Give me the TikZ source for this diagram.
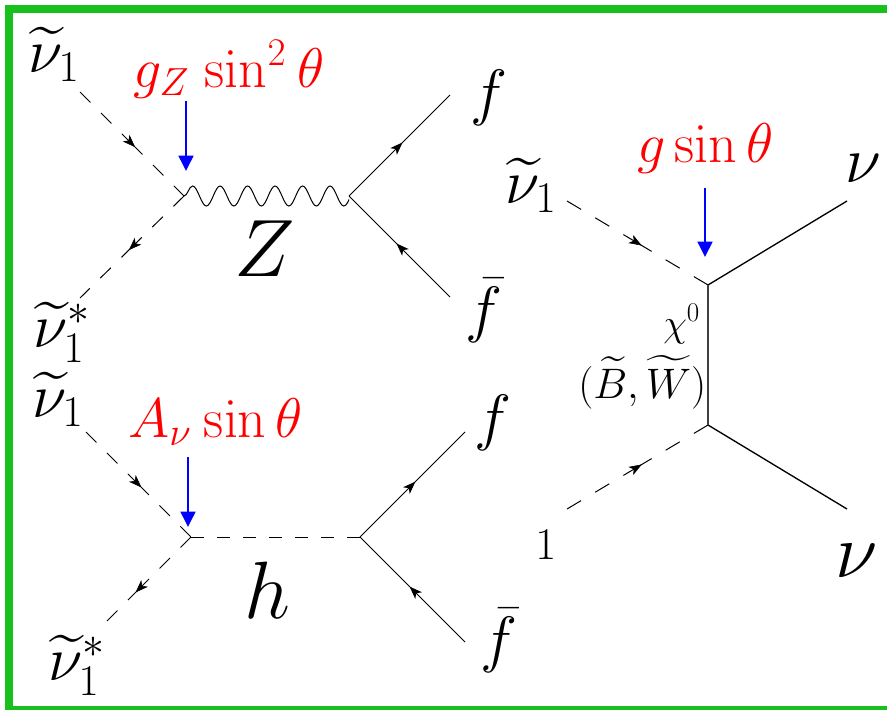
\RequirePackage{fix-cm}
\documentclass[tikz,border=0pt]{standalone}
\usepackage{amsmath,amssymb}
\usetikzlibrary{arrows.meta,calc,decorations.markings,decorations.pathmorphing}
\definecolor{frmgreen}{RGB}{24,192,30}
\definecolor{cplred}{RGB}{255,0,0}
\definecolor{cplblue}{RGB}{0,0,255}
\tikzset{
  lbl/.style={inner sep=0pt,anchor=base west,font=\fontsize{#1}{#1}\selectfont},
  cpl/.style={lbl=#1,text=cplred},
  midtip/.style={postaction={decorate},decoration={markings,
    mark=at position #1 with {\arrow{Stealth[length=9.5pt,width=7pt,inset=2.5pt]}}}},
  midtip/.default=.53,
  scalar/.style={line width=.75pt,dash pattern=on #1 off #1},
  fermion/.style={line width=.75pt,midtip},
  hit/.style={cplblue,line width=1.9pt,-{Triangle[length=11.5pt,width=11pt]}}
}
\begin{document}
\begin{tikzpicture}[x=.75pt,y=-.75pt]
    \clip (0,0) rectangle (887,710);
    \fill[frmgreen] (5,5) rectangle (887,13);
    \fill[frmgreen] (5,5) rectangle (13,710);
    \fill[frmgreen] (5,705.5) rectangle (887,710);
    \coordinate (za) at (80,92); \coordinate (zb) at (80,298);
    \coordinate (zv) at (184,196); \coordinate (zw) at (349,196);
    \coordinate (zf) at (450,95); \coordinate (zg) at (450,297);
    \coordinate (ha) at (86,432); \coordinate (hb) at (107,621);
    \coordinate (hv) at (191,537); \coordinate (hw) at (360,537);
    \coordinate (hf) at (465,432); \coordinate (hg) at (465,642);
    \coordinate (ca) at (567,201); \coordinate (cb) at (567,509);
    \coordinate (cv) at (708,285); \coordinate (cw) at (708,425);
    \coordinate (cf) at (847,201); \coordinate (cg) at (847,509);
    \foreach \p/\q/\u in {za/zv/11.1pt,zv/zb/11.1pt,ha/hv/11.1pt,ca/cv/12.3pt,cb/cw/12.3pt}{
      \draw[scalar=\u] (\p) -- ($(\p)!.5!(\q)$);
      \draw[scalar=\u] ($(\q)!.5!(\p)$) -- (\q);
      \path[midtip] (\p) -- (\q);
    }
    \draw[scalar=11.1pt] (hv) -- ($(hv)!.5!(hb)$);
    \draw[line width=.75pt,dash pattern=on 11.1pt off 11.1pt on 22.2pt off 11.1pt] (hb) -- ($(hb)!.5!(hv)$);
    \path[midtip=.66] (hv) -- (hb);
    \begin{scope}
      \clip ($(zv)+(0,-40)$) rectangle ($(zw)+(0,40)$);
      \draw[line width=.75pt,decorate,decoration={snake,segment length=20.625pt,amplitude=7.5pt}] (zv) -- ($(zw)+(30,0)$);
    \end{scope}
    \draw[scalar=9.75pt] (hv) -- (hw);
    \draw[fermion] (zw) -- (zf);
    \draw[fermion] (zg) -- (zw);
    \draw[fermion] (hw) -- (hf);
    \draw[fermion] (hg) -- (hw);
    \draw[line width=1pt] (cv) -- (cf);
    \draw[line width=1pt] (cw) -- (cg);
    \draw[line width=1pt,black!75] (cv) -- (cw);
    \node[lbl=47] (n1) at (28,72) {$\widetilde{\nu}_1$};
    \node[lbl=47] (n2) at (33,347) {$\widetilde{\nu}_1^*$};
    \node[lbl=47] (n3) at (32,417) {$\widetilde{\nu}_1$};
    \node[lbl=47] (n4) at (48,680) {$\widetilde{\nu}_1^*$};
    \node[lbl=47] (n5) at (505,203) {$\widetilde{\nu}_1$};
    \node[lbl=34] (n6) at (535,559) {$1$};
    \node[lbl=47] (f1) at (470,113) {$f$};
    \node[lbl=47] (f2) at (465,330) {$\bar{f}$};
    \node[lbl=47] (f3) at (474,438) {$f$};
    \node[lbl=47] (f4) at (480,660) {$\bar{f}$};
    \node[lbl=61] (zlbl) at (234,276) {$Z$};
    \node[lbl=61] (hlbl) at (244,618) {$h$};
    \node[lbl=49] (v1) at (845,182) {$\nu$};
    \node[lbl=58] (v2) at (835,577) {$\nu$};
    \node[lbl=29] (chi) at (663,336) {$\chi^0$};
    \node[lbl=32] (mix) at (578,398) {$(\widetilde{B},\widetilde{W})$};
    \node[cpl=42] (gz) at (133,87) {$g_Z\mspace{2mu}\sin^2\mspace{.6mu}\theta$};
    \node[cpl=42] (an) at (128,437) {$A_\nu\mspace{1mu}\sin\theta$};
    \node[cpl=42] (gs) at (637,162) {$g\sin\theta$};
    \coordinate (t1) at (186,101); \coordinate (t2) at (186,171);
    \coordinate (t3) at (188,457); \coordinate (t4) at (188,527);
    \coordinate (t5) at (705,188); \coordinate (t6) at (705,257);
    \draw[hit] (t1) -- (t2);
    \draw[hit] (t3) -- (t4);
    \draw[hit] (t5) -- (t6);
\end{tikzpicture}
\end{document}
